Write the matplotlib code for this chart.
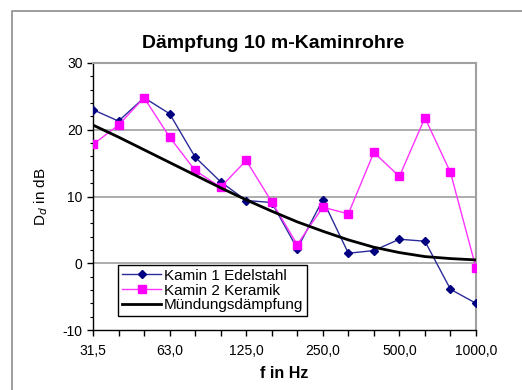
import numpy as np
import matplotlib
matplotlib.use("Agg")
import matplotlib.pyplot as plt
from matplotlib.lines import Line2D

plt.rcParams['font.family'] = ['Liberation Sans', 'DejaVu Sans']
plt.rcParams['axes.unicode_minus'] = False

# third-octave bands, Excel category axis
freqs = ['31,5', '40,0', '50,0', '63,0', '80,0', '100,0', '125,0', '160,0',
         '200,0', '250,0', '315,0', '400,0', '500,0', '630,0', '800,0', '1000,0']
kamin1 = [23.0, 21.3, 24.8, 22.4, 15.9, 12.2, 9.4, 9.1, 2.2, 9.5, 1.5, 1.9, 3.6, 3.3, -3.9, -6.0]
kamin2 = [17.8, 20.7, 24.8, 18.9, 13.9, 11.4, 15.4, 9.2, 2.8, 8.4, 7.4, 16.6, 13.0, 21.8, 13.6, -0.7]
muendung = [20.7, 18.9, 17.0, 15.1, 13.2, 11.3, 9.5, 7.8, 6.2, 4.8, 3.5, 2.4, 1.6, 1.0, 0.7, 0.5]

x = np.arange(len(freqs))

fig = plt.figure(figsize=(5.22, 3.9), dpi=100)
# outer chart border (top and left visible)
fig.lines.append(Line2D([12/522, 12/522, 1.0], [0.0, 1 - 10.7/390, 1 - 10.7/390],
                        transform=fig.transFigure, color='#8c8c8c', linewidth=1.2))
ax = fig.add_axes([93/522, 60/390, 383/522, 267/390])

for yv in [0, 10, 20, 30]:
    ax.axhline(yv, color='#a0a0a0', linewidth=1.2, zorder=1)

ax.plot(x, kamin1, color='#2b2b9a', linewidth=1.0, marker='D', markersize=4,
        markerfacecolor='#000080', markeredgecolor='#000080', zorder=3,
        label='Kamin 1 Edelstahl')
ax.plot(x, kamin2, color='#ff33ff', linewidth=1.0, marker='s', markersize=6,
        markerfacecolor='#ff00ff', markeredgecolor='#ff00ff', zorder=3,
        label='Kamin 2 Keramik')
ax.plot(x, muendung, color='black', linewidth=2.0, zorder=4,
        label='Mündungsdämpfung')

ax.set_xlim(0, 15)
ax.set_ylim(-10, 30)
ax.set_yticks([-10, 0, 10, 20, 30])
ax.set_yticks(np.arange(-10, 31, 2), minor=True)
ax.set_xticks(x)
ax.set_xticklabels([f if i % 3 == 0 else '' for i, f in enumerate(freqs)])
ax.tick_params(axis='both', labelsize=10, length=4, width=1, direction='out')
ax.tick_params(axis='y', which='minor', length=2.5, width=0.8)
ax.tick_params(axis='x', pad=6)

for s in ['top', 'right']:
    ax.spines[s].set_color('#a0a0a0')
    ax.spines[s].set_linewidth(1.5)
ax.spines['left'].set_linewidth(1.0)
ax.spines['bottom'].set_linewidth(1.0)

ax.set_title('Dämpfung 10 m-Kaminrohre', fontsize=14, fontweight='bold', pad=11,
             x=(273 - 93) / 383)
ax.set_xlabel('f in Hz', fontsize=11.5, fontweight='bold', labelpad=6)
ax.set_ylabel('D$_d$ in dB', fontsize=11, labelpad=9)

leg = ax.legend(loc='lower left', bbox_to_anchor=(0.065, 0.052), fontsize=11,
                frameon=True, fancybox=False, edgecolor='black', framealpha=1,
                borderpad=0.25, labelspacing=0.05, handlelength=2.6,
                handletextpad=0.15, borderaxespad=0)
leg.get_frame().set_linewidth(1.0)

fig.savefig('out.png', dpi=100)
